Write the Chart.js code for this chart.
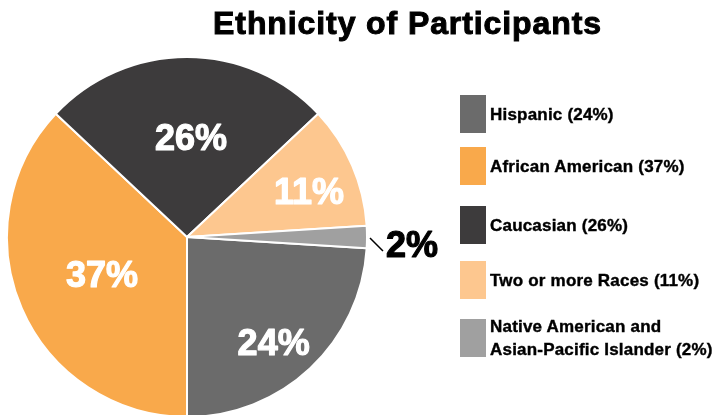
<!DOCTYPE html>
<html>
<head>
<meta charset="utf-8">
<script src="https://cdn.jsdelivr.net/npm/chart.js@4"></script>
<style>
  html, body { margin: 0; padding: 0; background: #fff; overflow: hidden; }
  #wrap { position: relative; width: 715px; height: 415px; overflow: hidden; }
  #myChart { position: absolute; left: 0; top: 0; }
  #title {
    position: absolute; left: 0; top: 5px; width: 715px; padding-left: 100px; box-sizing: border-box;
    text-align: center; font-family: "Liberation Sans", Arial, sans-serif; font-weight: bold;
    font-size: 32px; letter-spacing: 0.9px; -webkit-text-stroke: 1px #000; color: #000;
  }
  .leg { position: absolute; left: 460px; font-family: "Liberation Sans", Arial, sans-serif; font-weight: bold;
    font-size: 17px; letter-spacing: 0.2px; -webkit-text-stroke: 0.4px #000; color: #000; display: flex; align-items: center; }
  .leg .box { width: 26px; height: 38px; margin-right: 4px; flex: none; }
  .leg .txt { line-height: 23px; }
</style>
</head>
<body>
<div id="wrap">
  <canvas id="myChart" width="715" height="420"></canvas>
  <div id="title">Ethnicity of Participants</div>
  <div id="legend"></div>
</div>
<script>
const labels = ['Hispanic', 'African American', 'Caucasian', 'Two or more Races', 'Native American and Asian-Pacific Islander'];
const legendLines = [['Hispanic (24%)'], ['African American (37%)'], ['Caucasian (26%)'], ['Two or more Races (11%)'], ['Native American and', 'Asian-Pacific Islander (2%)']];
const values = [24, 37, 26, 11, 2];
const colors = ['#6b6b6b', '#f9a94b', '#3d3b3c', '#fdc78f', '#a0a0a0'];

// legend
const legTops = [95, 147, 206, 261, 315];
const legend = document.getElementById('legend');
legendLines.forEach(function(lines, i){
  const d = document.createElement('div');
  d.className = 'leg';
  d.style.top = legTops[i] + 'px';
  d.innerHTML = '<div class="box" style="background:' + colors[i] + '"></div><div class="txt">' + lines.join('<br>') + '</div>';
  legend.appendChild(d);
});

// label radius as a fraction of the outer radius, per slice, plus small nudges
const labelRadius = [0.76, 0.52, 0.55, 0.72];
const labelNudge = [[-7, 8], [1, 3], [4, 2], [3, 9]];

const pctLabels = {
  id: 'pctLabels',
  afterDatasetsDraw(chart) {
    const ctx = chart.ctx;
    const meta = chart.getDatasetMeta(0);
    ctx.save();
    ctx.font = 'bold 36px "Liberation Sans", Arial, sans-serif';
    ctx.textBaseline = 'middle';
    ctx.lineJoin = 'round';
    meta.data.forEach(function(arc, i){
      const mid = (arc.startAngle + arc.endAngle) / 2;
      const txt = values[i] + '%';
      if (i < labelRadius.length) {
        const r = arc.outerRadius * labelRadius[i];
        const x = arc.x + Math.cos(mid) * r + labelNudge[i][0];
        const y = arc.y + Math.sin(mid) * r + labelNudge[i][1];
        ctx.fillStyle = '#fff';
        ctx.strokeStyle = '#fff';
        ctx.lineWidth = 1.2;
        ctx.textAlign = 'center';
        ctx.fillText(txt, x, y);
        ctx.strokeText(txt, x, y);
      } else {
        // small slice: outside label with leader line
        const x1 = arc.x + Math.cos(mid) * (arc.outerRadius + 3);
        const y1 = arc.y + Math.sin(mid) * (arc.outerRadius + 3) + 1;
        ctx.strokeStyle = '#000';
        ctx.lineWidth = 1.5;
        ctx.beginPath();
        ctx.moveTo(x1, y1);
        ctx.lineTo(x1 + 13, y1 + 13);
        ctx.stroke();
        ctx.fillStyle = '#000';
        ctx.lineWidth = 1.2;
        ctx.textAlign = 'left';
        ctx.fillText(txt, x1 + 16, y1 + 9);
        ctx.strokeText(txt, x1 + 16, y1 + 9);
      }
    });
    ctx.restore();
  }
};

var ctx = document.getElementById('myChart');
var myChart = new Chart(ctx, {
  type: 'pie',
  data: {
    labels: labels,
    datasets: [{
      data: values,
      backgroundColor: colors,
      borderColor: '#ffffff',
      borderWidth: 2
    }]
  },
  options: {
    responsive: false,
    animation: false,
    rotation: 93.6,
    layout: { padding: { left: 6, right: 347, top: 56, bottom: 2 } },
    plugins: {
      legend: { display: false },
      tooltip: { enabled: false }
    }
  },
  plugins: [pctLabels]
});
</script>
</body>
</html>
